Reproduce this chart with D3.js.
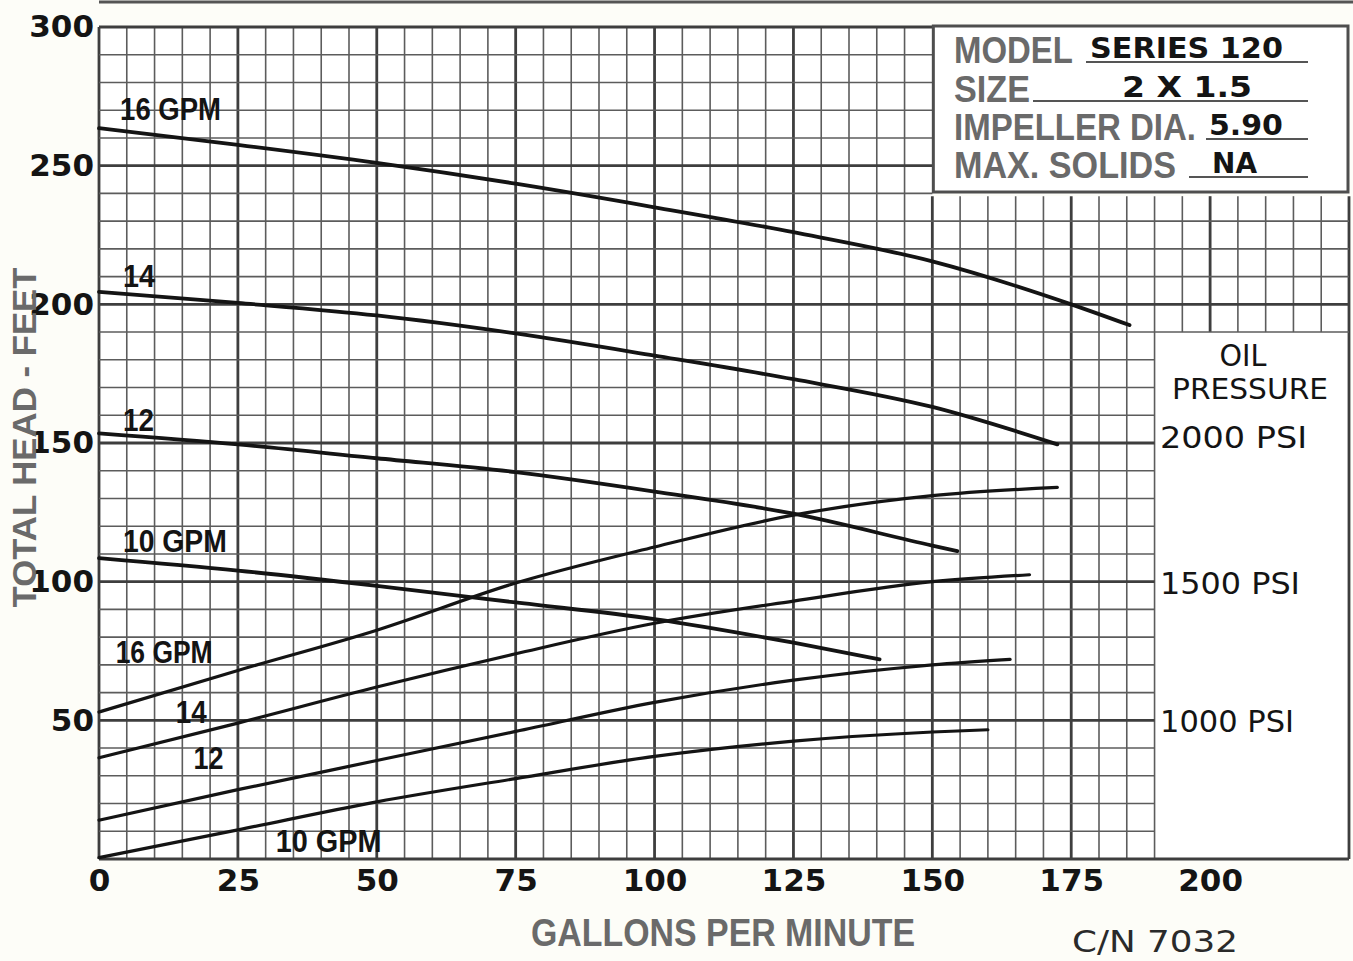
<!DOCTYPE html>
<html>
<head>
<meta charset="utf-8">
<script src="https://cdn.jsdelivr.net/npm/d3@7"></script>
<style>
  html, body { margin: 0; padding: 0; background: #fdfdf8; }
  svg { display: block; }
</style>
</head>
<body>
<svg id="chart" width="1353" height="961"></svg>
<script>
// Series 120 pump: total head (ft) vs flow (GPM) for each hydraulic oil flow,
// plus the oil-pressure curves at the same oil flows. Points are [GPM, feet].
const headCurve16 = [[0,263.5],[25,257.5],[50,251],[75,243.5],[100,235],[125,226],[150,215.5],[175,200],[185.5,192.5]];
const headCurve14 = [[0,204.5],[25,200.5],[50,196],[75,189.5],[100,181.5],[125,173],[150,163],[172.5,149.5]];
const headCurve12 = [[0,153.5],[25,149.5],[50,144.5],[75,139.5],[100,132.5],[125,124.5],[150,113],[154.5,111]];
const headCurve10 = [[0,108.5],[25,104],[50,98.5],[75,92.5],[100,86.5],[125,78],[140.5,72]];

const oilCurve16 = [[0,53],[25,68],[50,82.5],[75,99.5],[100,112.5],[125,124],[150,131],[172.5,134]];
const oilCurve14 = [[0,36.5],[25,49],[50,62],[75,74],[100,85],[125,93],[150,100],[167.5,102.5]];
const oilCurve12 = [[0,14],[25,25],[50,35.5],[75,46],[100,56.5],[125,64.5],[150,70],[164,72]];
const oilCurve10 = [[0,0.5],[25,10.5],[50,20.6],[75,29],[100,37],[125,42.5],[150,45.8],[160,46.6]];

const xTickValues = [0, 25, 50, 75, 100, 125, 150, 175, 200];
const yTickValues = [50, 100, 150, 200, 250, 300];

const pressureLabels = ["2000 PSI", "1500 PSI", "1000 PSI"];
const pressureHeads = [150, 100, 50];

const infoLabels = ["MODEL", "SIZE", "IMPELLER DIA.", "MAX. SOLIDS"];
const infoValues = ["SERIES  120", "2  X  1.5", "5.90", "NA"];

// ---------------------------------------------------------------------------
const svg = d3.select("#chart");
const W = 1353, H = 961;

const x = d3.scaleLinear().domain([0, 225]).range([99, 1349]);
const y = d3.scaleLinear().domain([0, 300]).range([859, 27]);

const INK = "#141414";
const GRID = "#5c5c5c";
const GRID_MAJOR = "#3e3e3e";
const GREY_TEXT = "#6a6a6a";
const GEO = "'DejaVu Sans', 'Noto Sans', sans-serif";
const NARROW = "'Liberation Sans Narrow', 'Liberation Sans', Arial, sans-serif";

// Squeeze a text horizontally to a given width (condensed lettering)
function condense(sel, width) {
  sel.each(function(d, i) {
    const w = typeof width === "function" ? width(d, i) : width;
    const natural = this.getComputedTextLength();
    const tx = +this.getAttribute("data-x"), ty = +this.getAttribute("data-y");
    const k = natural > 0 ? w / natural : 1;
    this.setAttribute("transform", `translate(${tx},${ty}) scale(${k},1)`);
  });
}

// Plot paper
svg.append("rect").attr("x", x(0)).attr("y", y(300))
  .attr("width", x(150) - x(0)).attr("height", y(0) - y(300)).attr("fill", "#ffffff");
svg.append("rect").attr("x", x(150)).attr("y", y(239))
  .attr("width", x(225) - x(150)).attr("height", y(0) - y(239)).attr("fill", "#ffffff");

// Heavy rule across the top of the sheet
svg.append("line").attr("x1", x(0)).attr("x2", W).attr("y1", 2).attr("y2", 2)
  .attr("stroke", "#555").attr("stroke-width", 3);

// ---- Grid -----------------------------------------------------------------
const grid = svg.append("g").attr("class", "grid");
const xLines = d3.range(0, 226, 5);
const yLines = d3.range(0, 301, 10);

function vExtent(g) {
  if (g < 150) return [0, 300];
  if (g <= 190) return [0, 239];
  if (g < 225) return [190, 239];
  return [0, 239];
}
function hExtent(h) {
  if (h === 0) return [0, 225];
  if (h < 190) return [0, 190];
  if (h <= 230) return [0, 225];
  return [0, 150];
}

grid.selectAll("line.v").data(xLines).join("line")
  .attr("class", "v")
  .attr("x1", d => x(d)).attr("x2", d => x(d))
  .attr("y1", d => y(vExtent(d)[0])).attr("y2", d => y(vExtent(d)[1]))
  .attr("stroke", d => (d % 25 === 0 || d === 225) ? GRID_MAJOR : GRID)
  .attr("stroke-width", d => (d % 25 === 0 || d === 225) ? 2.8 : 1.6);

grid.selectAll("line.h").data(yLines).join("line")
  .attr("class", "h")
  .attr("y1", d => y(d)).attr("y2", d => y(d))
  .attr("x1", d => x(hExtent(d)[0])).attr("x2", d => x(hExtent(d)[1]))
  .attr("stroke", d => d % 50 === 0 ? GRID_MAJOR : GRID)
  .attr("stroke-width", d => d % 50 === 0 ? 2.8 : 1.6);

// ---- Info box -------------------------------------------------------------
const box = svg.append("g").attr("class", "info");
const bx0 = x(150) + 1, bx1 = x(225) - 1, by0 = y(300) - 1, by1 = 192;
box.append("rect").attr("x", bx0).attr("y", by0)
  .attr("width", bx1 - bx0).attr("height", by1 - by0)
  .attr("fill", "#ffffff").attr("stroke", "#4e4e4e").attr("stroke-width", 3);

const infoBase = [63, 102, 140, 178];
const infoLabelLen = [119, 76, 242, 222];
const ruleStart = [1086, 1033, 1206, 1189];
const valueX = [1090, 1122, 1209, 1212];
const valueLen = [193, 130, 74, 45];

box.selectAll("text.lab").data(infoLabels).join("text")
  .attr("class", "lab")
  .attr("data-x", 954).attr("data-y", (d, i) => infoBase[i])
  .attr("font-family", NARROW).attr("font-weight", "bold").attr("font-size", 37)
  .attr("fill", GREY_TEXT).text(d => d)
  .call(condense, (d, i) => infoLabelLen[i]);

box.selectAll("line.rule").data(infoLabels).join("line")
  .attr("class", "rule")
  .attr("x1", (d, i) => ruleStart[i]).attr("x2", 1308)
  .attr("y1", (d, i) => infoBase[i] - 1).attr("y2", (d, i) => infoBase[i] - 1)
  .attr("stroke", "#555").attr("stroke-width", 1.8);

box.selectAll("text.val").data(infoValues).join("text")
  .attr("class", "val")
  .attr("data-x", (d, i) => valueX[i]).attr("data-y", (d, i) => infoBase[i] - 5)
  .attr("font-family", GEO).attr("font-weight", "bold").attr("font-size", 29)
  .attr("fill", INK).text(d => d)
  .call(condense, (d, i) => valueLen[i]);

// ---- Curves ---------------------------------------------------------------
const line = d3.line().x(d => x(d[0])).y(d => y(d[1])).curve(d3.curveMonotoneX);
const curves = [headCurve16, headCurve14, headCurve12, headCurve10,
                oilCurve16, oilCurve14, oilCurve12, oilCurve10];
svg.append("g").attr("class", "curves")
  .selectAll("path").data(curves).join("path")
  .attr("d", line)
  .attr("fill", "none").attr("stroke", INK)
  .attr("stroke-width", (d, i) => i < 4 ? 3.8 : 3.2)
  .attr("stroke-linecap", "round").attr("stroke-linejoin", "round");

// Curve labels: text, anchor [GPM, ft] at the left end of the baseline, drawn width
const curveLabels = [
  ["16 GPM", [3.8, 266.3], 101],
  ["14", [4.3, 206.2], 32],
  ["12", [4.3, 154.3], 31],
  ["10 GPM", [4.3, 110.6], 104],
  ["16 GPM", [3.0, 70.6], 97],
  ["14", [13.8, 49.2], 31],
  ["12", [17.0, 32.6], 30],
  ["10 GPM", [31.8, 2.4], 106]
];
svg.append("g").attr("class", "curve-labels")
  .selectAll("text").data(curveLabels).join("text")
  .attr("data-x", d => x(d[1][0])).attr("data-y", d => y(d[1][1]))
  .attr("font-family", "'Liberation Sans', Arial, sans-serif")
  .attr("font-weight", "bold").attr("font-size", 31)
  .attr("fill", INK).text(d => d[0])
  .call(condense, d => d[2]);

// ---- Oil pressure key -----------------------------------------------------
const key = svg.append("g").attr("class", "pressure");
key.append("text").attr("x", 1243).attr("y", 366).attr("text-anchor", "middle")
  .attr("textLength", 47).attr("lengthAdjust", "spacingAndGlyphs")
  .attr("font-family", GEO).attr("font-size", 30).attr("fill", INK).text("OIL");
key.append("text").attr("x", 1250).attr("y", 399).attr("text-anchor", "middle")
  .attr("textLength", 156).attr("lengthAdjust", "spacingAndGlyphs")
  .attr("font-family", GEO).attr("font-size", 29).attr("fill", INK).text("PRESSURE");
key.selectAll("text.psi").data(pressureLabels).join("text")
  .attr("class", "psi")
  .attr("x", 1160).attr("y", (d, i) => y(pressureHeads[i]) + (i === 0 ? 5 : 12))
  .attr("textLength", (d, i) => [147, 140, 134][i]).attr("lengthAdjust", "spacingAndGlyphs")
  .attr("font-family", GEO).attr("font-size", 31).attr("fill", INK).text(d => d);

// ---- Axes -----------------------------------------------------------------
const xAxis = svg.append("g").attr("transform", `translate(0,${y(0)})`)
  .call(d3.axisBottom(x).tickValues(xTickValues).tickSize(0).tickPadding(10).tickFormat(d3.format("d")));
const yAxis = svg.append("g").attr("transform", `translate(${x(0)},0)`)
  .call(d3.axisLeft(y).tickValues(yTickValues).tickSize(0).tickPadding(5).tickFormat(d3.format("d")));
[xAxis, yAxis].forEach(a => {
  a.select(".domain").remove();
  a.selectAll("text").attr("font-family", GEO).attr("font-weight", "bold")
    .attr("font-size", 31).attr("fill", INK);
});

// Axis titles
svg.append("text")
  .attr("transform", `translate(36,${y(152)}) rotate(-90)`)
  .attr("text-anchor", "middle")
  .attr("textLength", 340).attr("lengthAdjust", "spacingAndGlyphs")
  .attr("font-family", NARROW).attr("font-weight", "bold").attr("font-size", 34)
  .attr("fill", GREY_TEXT).text("TOTAL HEAD - FEET");

svg.append("text")
  .attr("x", 723).attr("y", 946).attr("text-anchor", "middle")
  .attr("textLength", 384).attr("lengthAdjust", "spacingAndGlyphs")
  .attr("font-family", NARROW).attr("font-weight", "bold").attr("font-size", 38)
  .attr("fill", GREY_TEXT).text("GALLONS PER MINUTE");

svg.append("text")
  .attr("x", 1072).attr("y", 952)
  .attr("textLength", 166).attr("lengthAdjust", "spacingAndGlyphs")
  .attr("font-family", GEO).attr("font-size", 31).attr("fill", "#2a2a2a")
  .text("C/N 7032");
</script>
</body>
</html>
